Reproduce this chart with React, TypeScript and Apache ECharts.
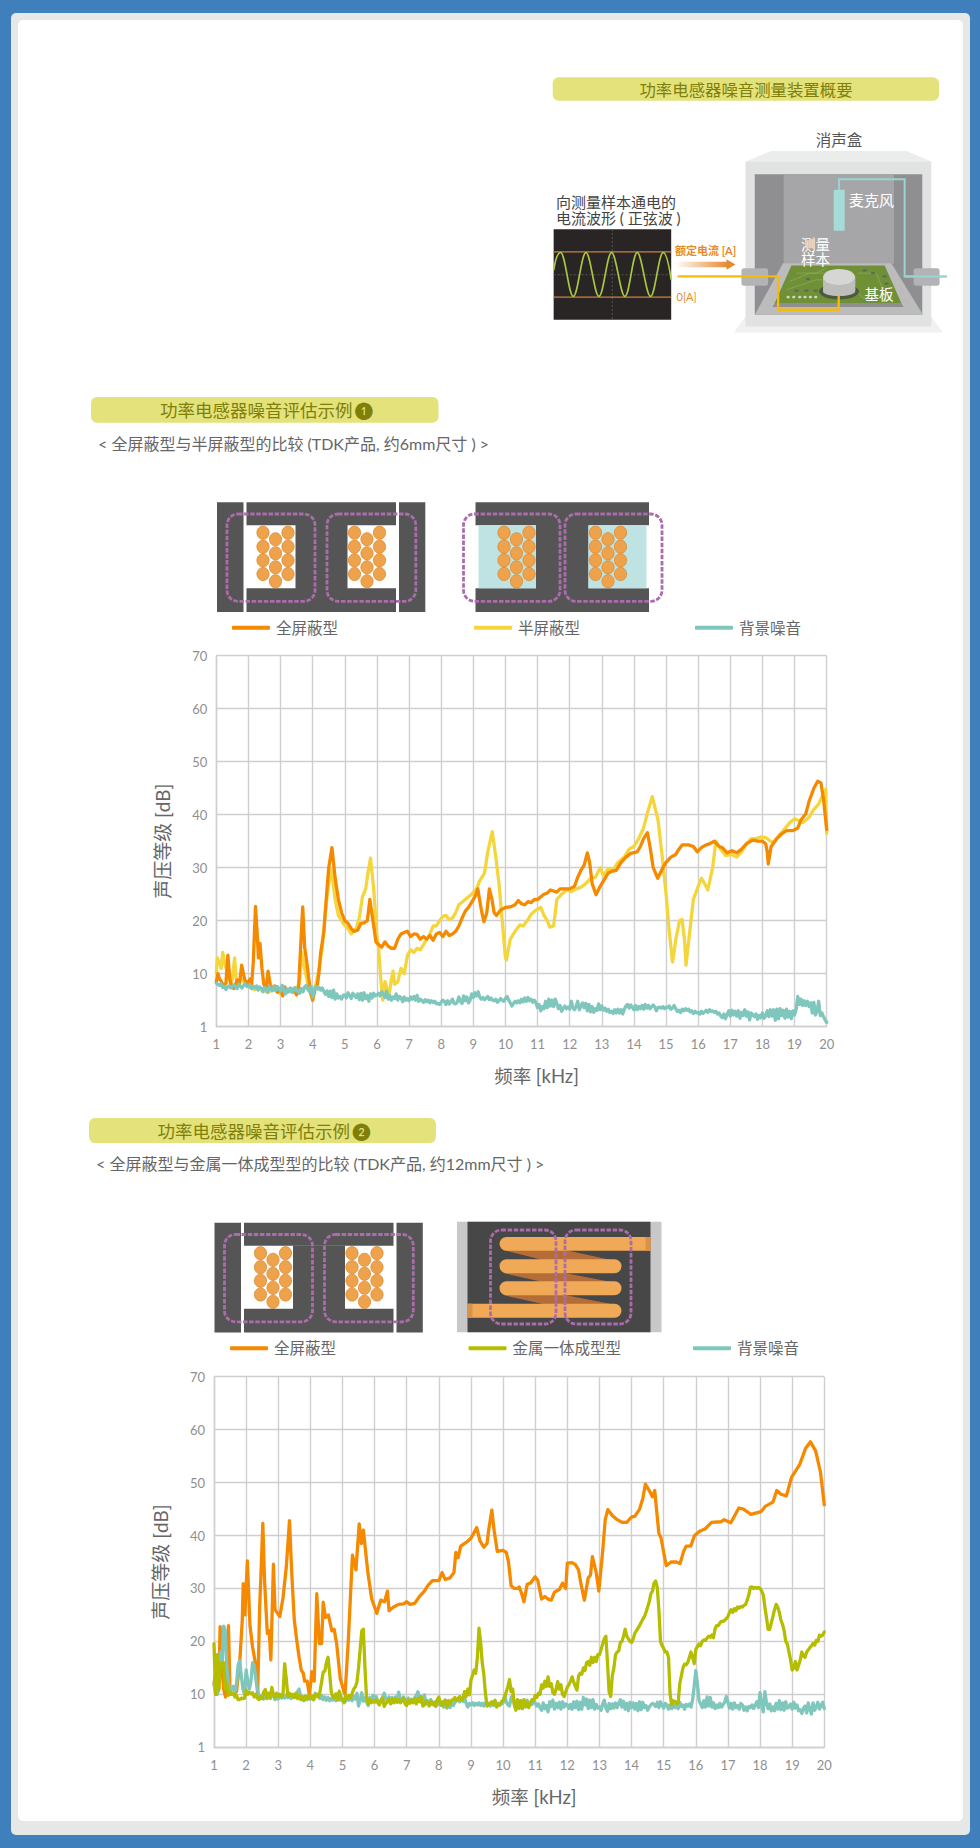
import React, { useEffect, useRef } from "react";
import * as echarts from "echarts";

const SANS = "Lato, 'Noto Sans CJK SC', sans-serif";
const CJK = "'Noto Sans CJK SC', sans-serif";

const xMin = 1;
const xMax = 20;
const yTickLabels = ["1", "10", "20", "30", "40", "50", "60", "70"];
const orangeColor = "#f58a00";
const yellowColor = "#f4d63c";
const teal = "#7fc7bc";
const olive = "#b5bd00";

const orange1: number[][] = [[1,8.5],[1.05,10],[1.1,9],[1.15,8.6],[1.2,8],[1.25,7.8],[1.3,8.2],[1.36,13.5],[1.42,9],[1.48,7.5],[1.55,7.2],[1.65,8.8],[1.72,8],[1.79,11.6],[1.88,9],[1.95,8],[2,8.5],[2.05,9],[2.1,8],[2.15,12],[2.22,22.7],[2.27,18],[2.31,13],[2.36,15.7],[2.42,11],[2.48,8],[2.55,7],[2.61,10.5],[2.68,8],[2.75,7],[2.82,7.7],[2.9,6.5],[3,7],[3.07,5.8],[3.13,7.5],[3.2,6.5],[3.3,7.2],[3.4,7],[3.5,6],[3.56,7],[3.6,12],[3.65,18],[3.69,22.6],[3.75,15],[3.82,12],[3.88,9],[3.95,6],[4,5],[4.07,7],[4.15,8],[4.2,10.5],[4.25,14],[4.35,18],[4.42,24],[4.5,30],[4.6,33.8],[4.7,28],[4.8,24],[4.9,21.5],[5,20],[5.1,19.5],[5.2,18.5],[5.28,18],[5.4,18.2],[5.5,19.5],[5.6,19.6],[5.7,20],[5.78,24],[5.9,19],[5.97,16],[6.05,15.5],[6.15,15],[6.25,16],[6.35,15.2],[6.45,14.8],[6.55,14.8],[6.65,16.5],[6.75,17.5],[6.85,17.8],[6.95,18],[7.05,17],[7.15,17.5],[7.25,17.4],[7.35,16.5],[7.45,17],[7.55,16.5],[7.65,17.2],[7.75,16.3],[7.85,17.5],[7.95,17.8],[8.05,17],[8.15,18],[8.25,17.2],[8.35,17.5],[8.45,18],[8.55,19],[8.65,20.5],[8.75,21.8],[8.85,22.5],[8.95,23.5],[9.05,24.5],[9.14,26],[9.25,22],[9.33,19.8],[9.42,21.5],[9.5,26],[9.58,24],[9.65,21.5],[9.72,21],[9.85,22],[10,22.5],[10.15,22.6],[10.3,23],[10.4,23.8],[10.5,23.2],[10.6,23],[10.7,23.6],[10.8,23.4],[10.9,24],[11,24],[11.1,24.5],[11.2,25],[11.3,25.2],[11.4,25.8],[11.5,25.6],[11.6,25.4],[11.7,26],[11.85,26],[12,26],[12.15,26.5],[12.25,28.2],[12.35,29.5],[12.45,30.5],[12.55,32.8],[12.62,31],[12.7,27],[12.82,24.9],[12.95,26.5],[13.1,28],[13.2,29],[13.3,29.3],[13.45,29.5],[13.6,31],[13.75,32],[13.9,32.7],[14.1,33],[14.2,34],[14.3,35.5],[14.42,36.6],[14.5,34],[14.6,30],[14.74,28],[14.9,30],[15,31],[15.15,32],[15.3,32.5],[15.4,33.5],[15.5,34.3],[15.7,34.3],[15.85,34],[15.97,33],[16.1,33.8],[16.25,34.3],[16.35,34.5],[16.5,35],[16.65,34],[16.75,33.8],[16.9,32.8],[17.05,33.2],[17.2,32.8],[17.35,33.5],[17.5,34.5],[17.7,35.2],[17.85,35],[18,35],[18.1,34.5],[18.15,33],[18.18,30.7],[18.27,34],[18.45,35.5],[18.6,36.4],[18.75,37],[18.95,37],[19.1,37.5],[19.2,39],[19.35,40.2],[19.45,42.5],[19.6,45],[19.72,46.3],[19.82,46],[19.9,43],[20,37.2]];

const yellow1: number[][] = [[1,10],[1.03,13],[1.1,12],[1.15,11],[1.2,14],[1.28,11.5],[1.36,10],[1.45,8],[1.5,9],[1.57,13],[1.62,9],[1.7,8.5],[1.8,9],[1.9,8],[2,7.7],[2.1,7.2],[2.2,7],[2.3,7.5],[2.4,7],[2.6,6.5],[2.8,7],[3,6.2],[3.2,7],[3.4,6.5],[3.5,6.8],[3.6,9],[3.66,14],[3.75,11],[3.85,8],[4,6.5],[4.1,8],[4.2,11],[4.3,15],[4.4,22],[4.5,27],[4.58,29.6],[4.7,24],[4.8,21],[4.95,19.5],[5.1,18.5],[5.2,17.5],[5.35,18.5],[5.45,20.5],[5.55,24.5],[5.65,26],[5.72,29],[5.8,31.8],[5.9,26],[6,17],[6.05,15],[6.12,9],[6.18,5],[6.25,8.5],[6.32,7],[6.38,6],[6.45,9],[6.5,10.5],[6.55,8],[6.65,8.5],[6.75,11],[6.85,10],[6.95,13.5],[7.05,14.5],[7.15,14],[7.25,14.8],[7.35,14.5],[7.45,15.5],[7.55,16.5],[7.65,17.5],[7.75,19],[7.85,19],[7.95,20],[8.05,20.8],[8.15,21],[8.25,20.2],[8.35,20.5],[8.45,21.5],[8.55,23],[8.65,23.5],[8.75,24],[8.85,24.5],[8.95,25],[9.1,26],[9.2,27.5],[9.35,29],[9.45,33],[9.59,36.8],[9.7,32],[9.8,27],[9.9,20],[10,13],[10.03,12.6],[10.15,16.5],[10.3,18],[10.45,19.2],[10.55,19],[10.7,20.2],[10.8,21.2],[10.95,22],[11.1,22.5],[11.2,21],[11.3,20],[11.38,18.8],[11.5,19],[11.6,24],[11.75,25],[11.9,25.8],[12.05,25.5],[12.2,26],[12.35,26.3],[12.5,27],[12.65,28],[12.8,28.2],[12.95,30],[13.05,28.5],[13.2,29.8],[13.35,29.5],[13.5,31],[13.7,32],[13.85,33.5],[14,34],[14.15,35.5],[14.3,37.5],[14.45,41],[14.57,43.4],[14.75,39],[14.9,31],[15,25],[15.1,18],[15.2,12.2],[15.32,17],[15.42,20],[15.5,20.2],[15.58,16],[15.62,11.6],[15.72,17],[15.85,24],[16,26.5],[16.1,28],[16.2,27],[16.3,25.8],[16.45,30],[16.55,35],[16.7,33.5],[16.85,32.3],[17.05,32.5],[17.2,32],[17.35,33],[17.5,34.5],[17.65,35.5],[17.8,35.5],[17.95,35.8],[18.1,35.7],[18.25,35],[18.35,34.8],[18.5,36],[18.65,37],[18.85,38.5],[19,39.2],[19.1,39],[19.25,38.5],[19.45,39.5],[19.6,41],[19.75,42],[19.9,44],[19.97,44.8],[20,36.5]];

const noise1Rows: number[][] = [
[8.2,8.0,7.8,8.1,7.4,7.6,7.0,7.5,7.7,7.3,7.6,7.9,7.4,7.2,8.0,7.6,7.3,7.8,8.1,7.6],
[7.5,7.9,7.2,7.6,7.3,7.7,6.9,7.5,7.2,6.6,7.4,7.1,6.5,7.6,7.0,6.8,7.5,6.9,7.6,7.2],
[6.7,7.8,7.0,6.2,7.1,6.6,7.3,6.5,7.0,7.4,6.7,6.9,6.3,7.2,6.6,7.5,7.8,7.0,6.6,7.6],
[5.6,6.8,7.6,7.1,7.4,6.9,7.3,6.6,6.1,6.8,5.7,6.7,5.5,6.9,5.2,6.2,5.4,5.7,5.2,5.9],
[6.0,5.4,6.4,5.9,5.3,6.3,6.0,5.5,6.2,5.1,6.3,5.0,6.4,5.3,5.9,4.8,6.2,5.4,6.3,5.8],
[6.0,6.3,5.8,6.6,6.1,5.5,6.7,5.2,5.9,5.0,5.6,5.3,6.2,5.0,5.7,5.5,4.7,5.6,5.0,5.3],
[4.9,5.6,5.2,5.7,5.0,5.9,4.8,5.2,4.9,4.6,5.1,4.7,5.0,4.5,4.9,4.6,4.8,4.3,4.4,4.2],
[4.6,5.0,4.8,4.2,4.9,4.3,4.7,5.2,4.4,4.3,4.6,5.6,4.8,4.4,5.8,4.9,5.6,4.5,5.0,6.2],
[5.5,6.4,5.8,6.6,5.6,5.2,5.5,5.1,5.4,5.7,5.1,5.4,5.0,4.9,5.2,4.6,4.9,5.3,5.0,4.8],
[5.3,5.7,5.0,4.5,3.9,4.4,4.8,4.5,4.9,4.5,5.2,4.7,5.4,4.8,5.5,4.9,5.2,4.6,5.0,4.5],
[3.6,4.2,3.0,3.8,3.4,4.8,3.6,5.2,3.9,5.0,3.8,5.2,4.4,3.4,4.0,2.9,3.5,3.9,3.4,3.7],
[3.3,4.8,3.6,3.2,3.8,4.8,3.2,3.9,4.5,3.6,4.4,3.0,4.2,2.8,3.8,2.7,3.4,3.1,4.3,3.2],
[3.9,3.1,3.5,2.9,3.3,2.7,2.9,2.5,3.2,2.6,3.3,2.6,3.2,2.4,3.3,3.9,4.2,3.5,4.1,3.7],
[3.2,4.0,3.2,3.8,3.4,4.0,3.3,4.2,3.5,4.0,3.4,3.8,4.1,3.7,3.0,3.6,3.7,3.5,3.8,3.4],
[3.7,3.6,3.9,3.3,3.5,4.0,3.4,2.9,3.1,2.7,3.3,3.0,3.4,3.1,3.3,2.8,3.0,2.5,2.9,2.6],
[2.7,2.4,2.9,2.5,2.8,3.1,2.7,3.2,2.9,3.0,2.7,2.9,2.4,2.6,2.0,1.7,2.4,1.5,2.3,3.0],
[2.0,3.1,2.2,2.9,2.0,3.0,1.6,2.7,2.1,3.2,2.0,2.8,1.3,2.6,2.2,1.9,2.4,1.4,2.1,1.7],
[2.6,1.6,2.0,3.0,1.9,3.2,2.0,3.2,1.2,3.3,1.5,3.4,2.1,3.1,1.6,3.3,1.8,2.9,1.5,3.0],
[2.2,3.3,5.7,4.2,5.2,4.0,4.9,4.0,4.8,3.8,4.5,2.6,4.6,2.2,3.0,4.8,2.1,2.6,1.9,1.3],
[0.8],
];

const orange2: number[][] = [[1,12],[1.05,14],[1.1,10],[1.15,11],[1.19,22.8],[1.25,15],[1.3,11],[1.36,9.5],[1.45,23],[1.5,10],[1.6,10],[1.7,10.5],[1.8,16],[1.88,24],[1.91,30.9],[1.96,25],[2.04,35.2],[2.12,23],[2.2,19],[2.3,15.5],[2.36,10],[2.42,26],[2.52,42.3],[2.57,32],[2.62,26],[2.66,21.5],[2.72,22],[2.77,16.5],[2.85,34.6],[2.9,26],[3.05,24.7],[3.15,28.3],[3.25,34],[3.35,42.8],[3.42,33],[3.5,24],[3.58,20],[3.65,17],[3.72,14.5],[3.78,14],[3.82,12.5],[3.9,12.5],[3.97,9.8],[4.05,14.3],[4.12,12.5],[4.2,29],[4.28,19.6],[4.35,19.6],[4.4,27.4],[4.47,24.5],[4.56,25],[4.67,22],[4.74,22.3],[4.82,19.5],[4.93,13],[5,11.5],[5.08,10],[5.18,20],[5.31,36.3],[5.42,33.5],[5.52,42.2],[5.59,38.5],[5.65,41],[5.79,33],[5.91,28],[6.07,25.3],[6.19,27.8],[6.31,27.5],[6.4,29.5],[6.45,25.8],[6.59,26.5],[6.75,27],[6.9,27.1],[7,27.5],[7.1,27],[7.25,27.2],[7.4,28.5],[7.55,29.5],[7.65,30.5],[7.8,31.5],[8,31.5],[8.1,33],[8.2,31.7],[8.35,32],[8.47,33],[8.53,36.8],[8.6,35.8],[8.68,38],[8.85,38.7],[9,39.5],[9.18,41.5],[9.28,39],[9.4,37.8],[9.5,38.5],[9.55,41],[9.65,44.8],[9.72,41],[9.82,37],[10,37.2],[10.1,36.8],[10.17,35],[10.25,30.5],[10.35,30],[10.45,30],[10.5,30.3],[10.58,29],[10.65,27.5],[10.75,30.8],[10.85,31],[11,32.2],[11.08,31.5],[11.2,28],[11.3,28.5],[11.4,28],[11.5,27.8],[11.6,29.3],[11.75,29.8],[11.85,31],[11.95,30],[12,34.8],[12.15,34.9],[12.25,34.5],[12.35,33.5],[12.42,31],[12.53,27.8],[12.65,32],[12.72,32.5],[12.78,36],[12.9,33],[12.98,29.5],[13.1,37],[13.18,43],[13.26,44.9],[13.4,43.8],[13.55,43],[13.7,42.5],[13.85,42.5],[14,43.5],[14.1,43.6],[14.25,45],[14.35,47],[14.43,49.7],[14.55,48.5],[14.65,47.3],[14.72,48.5],[14.85,40.4],[14.92,39.5],[15,36.8],[15.08,34.3],[15.23,35],[15.39,35],[15.51,34.7],[15.62,37],[15.7,38],[15.84,38],[15.96,40],[16.12,40.8],[16.3,41.3],[16.49,42.5],[16.78,42.6],[16.88,43],[17.09,42.4],[17.34,45.2],[17.48,45],[17.72,44],[18.03,44.5],[18.16,45.5],[18.4,46.3],[18.52,48.5],[18.65,47.8],[18.82,47.5],[18.98,51],[19.24,53.5],[19.42,56.5],[19.57,57.7],[19.73,56],[19.88,52],[20,45.8]];

const metalRows: number[][] = [
[19.6,10,17.5,11,16,15,16,11,12,9.8,10.5,10,10.2,9.5,9.8,9,9,9.3,9.2,9.3],
[10.8,10,10.4,10.1,10.3,9.5,10,9.3,9,9.6,9.2,10.5,10.9,9.2,10.2,9.4,11.3,10,9.4,10.2],
[9.6,10,9.5,10.2,15.8,13,9.6,10.2,9.7,10,9.4,10.2,9.2,9.8,9,9.6,8.9,9.7,9.1,9.8],
[9.2,9.7,9,9.8,10,9.5,10.5,12.4,14.2,14.4,16,17,14,10.5,9.5,9.3,10.1,9,10.6,9.4],
[9,8.4,9.8,9.2,9.8,9.3,10.2,11,11.4,12.3,15,18.5,22,22.3,15,9.3,8.2,9,8.4,8.8],
[8.6,9,8.4,8,8.9,9.3,7.7,8.3,8.6,9.1,8.2,9,8.4,9.2,8.5,9,8.4,8.9,9.3,8.2],
[7.9,8.9,8.3,9,8.4,9.2,8.2,9.2,8.6,9.6,7.8,8,8.8,8.4,7.9,8.7,8.1,8.5,7.7,9],
[9.5,8.2,7.9,8.6,8.9,7.6,8.8,8.2,8.9,9,9.4,8.8,9.2,9.6,9,9.1,10.5,9.6,11,9.9],
[12.7,13.6,14.6,14,17,22.5,20,16,13.8,10.2,7.8,8,8.3,8.6,8.2,8.9,7.6,8.1,8,8.6],
[8.9,9.5,10.5,11.5,12.8,10.5,11,8,7,9,7.5,8.8,7.3,9,7.8,8.5,7.5,8.4,9,8.8],
[9.8,9.4,10.2,10,11.8,11.2,12.5,11.5,13.3,11.5,12,10.3,10,11,12.4,11,11.8,10,9.6,10.5],
[11.4,11.8,12.5,13.3,12.3,11.5,10.8,13.5,14,13.8,15,14.5,16,16.2,15.5,17,16,17,16.2,17.5],
[17.5,18.5,19.5,20.5,21,16,10.5,9.6,13.5,15,17.5,18,18.2,19.8,20,21,22.3,21,20.5,20],
[19.8,20.5,21.5,22,22.5,23,23.6,24.2,24.7,25.5,26.5,27.5,29,29.5,31,31.4,30.2,26,20,19.2],
[18.7,18,18,17,10,8,8.8,8.7,8.2,8.4,12,13.5,15,15.7,15.6,16,17,18,17,15.8],
[18.5,19,19.5,19.2,20,20.3,20.2,20.6,21,20.8,21.2,20.7,22.4,23,23,23.5,23.8,23.8,24,24.3],
[24.7,25.5,26,25.5,26.2,25.8,26.5,26.3,26.6,26.5,26.8,27,27.8,28.8,30.2,30.3,30,30.2,30,30.2],
[30,29.5,28.8,26.5,24.5,22.3,22.3,23.5,24.7,26,27,26.5,25.5,24,23.2,22,20,19.5,18,16.5],
[14.6,15,16.2,14.6,15.5,16.5,18,17.2,17,18,18.4,18.8,19.2,19.6,19.3,20.2,20,21.2,21,21.2],
[21.8],
];

const noise2Rows: number[][] = [
[12,10,10,13,18,15,22.9,22,15,12,10,11,11.5,10.5,12,15.5,16.4,13.5,11,10],
[14.6,12.5,11,12.5,16,15.5,13,11,9.8,9.2,9.6,9.1,10,9.5,9.9,9.2,10.4,9.7,9,9.6],
[9.1,9.7,9.3,9.8,9.3,9.9,9.4,9.7,9.2,9.8,9.4,9.7,10.5,11,9.5,9.2,8.8,9.5,9,9.4],
[9.1,9.4,9.0,10.2,9.6,9.9,9.2,9.8,9.0,9.5,8.9,9.4,8.8,9.2,8.9,9.3,8.8,9.2,8.9,9.1],
[8.8,9.1,8.7,9.2,8.9,9.5,8.8,9.6,9.1,10.2,7.8,9.0,10.3,8.7,9.3,8.6,7.9,9.4,8.6,9.8],
[8.5,9.6,8.7,8.3,8.9,9.5,10.2,9.1,8.8,9.5,8.9,9.4,8.7,9.5,8.9,10.4,9.1,8.7,9.5,8.9],
[8.7,9.3,8.6,9.1,8.6,9.4,9.8,10.5,9.0,8.6,9.1,9.9,8.2,8.8,7.8,9.0,8.3,8.0,8.6,8.0],
[8.6,8.0,8.6,7.6,8.9,7.4,8.7,7.5,8.6,7.9,8.5,8.9,9.1,8.6,9.2,8.7,9.4,8.3,7.6,8.3],
[8.0,8.4,7.9,8.3,8.0,8.4,7.9,8.3,7.8,8.4,8.0,8.3,7.8,8.2,7.9,8.4,7.8,8.3,8.0,8.2],
[8.4,9.8,8.6,8.0,7.8,9.4,9.8,8.2,7.6,8.5,7.3,8.8,7.5,8.6,7.6,8.9,7.8,8.4,8.1,8.7],
[8.4,7.8,8.2,7.5,7.0,8.4,7.3,7.9,6.7,8.6,7.7,8.9,7.2,8.3,7.5,8.5,7.2,8.6,7.6,8.2],
[8.0,7.3,8.1,7.2,8.6,7.5,8.7,7.1,8.5,7.2,9.4,8.0,9.1,7.3,8.9,7.5,9.0,7.2,8.1,7.4],
[7.6,7.0,8.2,8.9,7.4,6.8,8.3,7.3,8.2,7.4,8.4,7.5,8.3,9.0,7.6,8.7,7.2,8.3,6.9,8.5],
[7.5,8.4,7.2,8.3,6.9,8.6,7.1,8.5,7.5,7.9,7.0,7.6,8.0,8.3,8.1,7.7,8.5,7.5,8.6,7.9],
[7.4,8.3,8.0,7.2,8.0,7.3,8.1,7.5,7.8,7.3,8.5,7.7,8.0,7.2,8.1,7.8,8.2,7.6,9.0,11.5],
[14.5,12,8.8,8.2,7.5,8.8,7.6,9.5,7.8,9.4,7.6,8.4,7.3,8.0,7.5,8.3,7.6,8.1,8.5,9.6],
[8.5,7.4,8.3,7.2,8.4,7.5,7.9,7.2,8.3,8.0,7.0,7.6,6.9,7.7,7.5,8.0,7.3,8.0,8.6,7.5],
[10.3,8.0,6.7,10.5,8.4,7.3,8.2,6.9,7.6,6.9,8.3,7.2,8.8,7.1,8.4,7.0,8.6,7.4,7.6,8.2],
[7.2,8.5,7.4,8.0,6.9,7.1,6.4,7.4,7.8,6.5,8.4,7.2,6.3,8.4,7.0,7.6,8.5,7.2,7.9,8.5],
[7.3],
];

const rowsToPoints = (rows: number[][]) =>
  rows.flatMap((row, r) => row.map((v, j) => [xMin + r + j / 20, v]));

echarts.graphic.registerShape(
  "sineTrace",
  echarts.graphic.extendPath(
    "M71 632 C76 600 84 578 92 578 C106 578 116 710 130 710 C144 710 154 578 168 578 C182 578 193 710 207 710 C221 710 231 578 245 578 C259 578 271 710 285 710 C299 710 308 578 322 578 C336 578 348 710 362 710 C376 710 386 578 400 578 C410 578 418 620 424 660",
    {}
  )
);

const font = (size: number, weight = "normal", fam = CJK) => `${weight} ${size}px ${fam}`;
const label = (text: string, x: number, y: number, size: number, fill: string, align = "left", weight = "normal", fam = SANS) => ({
  type: "text", x, y, silent: true,
  style: { text, fill, font: font(size, weight, fam), textAlign: align, textVerticalAlign: "middle" },
});
const box = (x0: number, y0: number, x1: number, y1: number, fill: string, r: any = 0) => ({
  type: "rect", silent: true, shape: { x: x0, y: y0, width: x1 - x0, height: y1 - y0, r }, style: { fill },
});
const poly = (points: number[][], fill: string) => ({ type: "polygon", silent: true, shape: { points }, style: { fill } });
const wire = (points: number[][], stroke: string, lineWidth: number, lineDash?: number[]) => ({
  type: "polyline", silent: true, shape: { points }, style: { stroke, lineWidth, fill: "none", lineDash },
});
const oval = (cx: number, cy: number, rx: number, ry: number, fill: string, stroke?: string, lineWidth = 1) => ({
  type: "ellipse", silent: true, shape: { cx, cy, rx, ry }, style: { fill, stroke, lineWidth },
});
const dashed = (x0: number, y0: number, x1: number, y1: number) => ({
  type: "rect", silent: true, shape: { x: x0, y: y0, width: x1 - x0, height: y1 - y0, r: 11 },
  style: { fill: "none", stroke: "#ab6cab", lineWidth: 2.8, lineDash: [4.5, 1.6] },
});

const PILL = "#e3e27b";
const PILLTEXT = "#7f7f0a";
const GREY_TEXT = "#666666";
const CORE = "#555555";

const coil = (xc: number, dy: number) => {
  const out: any[] = [];
  [xc - 12.5, xc + 12.5].forEach((x) =>
    [532.7, 546.7, 560.3, 574].forEach((y) => out.push(oval(x, y + dy, 6.1, 6.6, "#eea24c", "#d88a34", 0.8)))
  );
  [539.3, 553.3, 567.3, 581.3].forEach((y) => out.push(oval(xc, y + dy, 6.1, 6.6, "#eea24c", "#d88a34", 0.8)));
  return out;
};

const setupDiagram = () => ({
  type: "group", x: 530, y: 60, scaleX: 1 / 3, scaleY: 1 / 3, silent: true,
  children: [
    poly([[647, 770], [1205, 770], [1240, 818], [612, 818]], "#f0f1f0"),
    poly([[647, 305], [725, 273], [1130, 273], [1205, 305]], "#ebecec"),
    box(647, 305, 1205, 800, "#e1e2e2"),
    box(675, 343, 1178, 765, "#8f8f91"),
    box(762, 343, 1093, 612, "#a6a6a8"),
    poly([[760, 610], [1085, 610], [1180, 765], [675, 765]], "#bcbcbc"),
    poly([[735, 730], [1115, 730], [1122, 742], [728, 742]], "#8f8f8f"),
    poly([[785, 617], [1065, 617], [1115, 730], [735, 730]], "#6f9036"),
    wire([[800, 640], [860, 640], [890, 625]], "#94ad5c", 2),
    wire([[780, 665], [840, 640], [885, 640]], "#94ad5c", 2),
    wire([[770, 690], [860, 660], [880, 660]], "#94ad5c", 2),
    wire([[985, 640], [1040, 640], [1060, 690]], "#94ad5c", 2),
    wire([[985, 700], [1000, 715], [1090, 715]], "#94ad5c", 2),
    ...[[775, 712], [792, 712], [810, 712], [826, 712], [842, 712], [858, 712]].map(([x, y]) => oval(x, y, 5, 4, "#cfd8c0")),
    ...[[835, 658], [800, 693], [830, 693], [858, 693], [1005, 632], [1030, 640], [1065, 650], [1070, 672]].map(([x, y]) => oval(x, y, 7, 3.5, "#5e6a60")),
    oval(928, 695, 60, 24, "#4d5a40"),
    box(880, 652, 977, 695, "#bdbdbb"),
    oval(928, 695, 48, 14, "#bdbdbb"),
    oval(928, 652, 48, 24, "#d6d6d4"),
    box(912, 390, 945, 513, "#a6dbd8", 3),
    wire([[928, 390], [928, 358], [1125, 358], [1125, 650], [1252, 650]], "#9bd3d3", 6),
    box(635, 625, 715, 678, "#b3b3b5", 8),
    box(1152, 625, 1230, 678, "#b3b3b5", 8),
    wire([[1125, 650], [1252, 650]], "#9bd3d3", 6),
    wire([[443, 650], [745, 650], [745, 750], [927, 750], [927, 708]], "#f6ba0a", 7),
    box(71, 508, 424, 780, "#2a2525"),
    wire([[71, 645], [424, 645]], "#5a5652", 3, [6, 6]),
    wire([[247, 508], [247, 780]], "#5a5652", 3, [6, 6]),
    wire([[71, 576], [424, 576]], "#c98142", 4),
    wire([[71, 712], [424, 712]], "#c98142", 4),
    { type: "sineTrace", silent: true, style: { fill: "none", stroke: "#a9c93f", lineWidth: 5 } },
    { type: "rect", silent: true, shape: { x: 435, y: 606, width: 158, height: 16 },
      style: { fill: new echarts.graphic.LinearGradient(0, 0, 1, 0, [{ offset: 0, color: "#ffffff" }, { offset: 1, color: "#e68a32" }]) } },
    poly([[590, 598], [617, 614], [590, 630]], "#e68a32"),
  ],
});

const semiOpenLeft = (dy: number, dx: number) => [
  box(217 + dx, 502.3 + dy, 243.5 + dx, 612 + dy, CORE),
  box(399 + dx, 502.3 + dy, 425.3 + dx, 612 + dy, CORE),
  box(246.5 + dx, 502.3 + dy, 396 + dx, 525.3 + dy, CORE),
  box(246.5 + dx, 588.3 + dy, 396 + dx, 612 + dy, CORE),
  box(295.5 + dx, 525 + dy, 347.5 + dx, 589 + dy, CORE),
  ...coil(275.5 + dx, dy),
  ...coil(367 + dx, dy),
  dashed(227 + dx, 514 + dy, 315 + dx, 601.3 + dy),
  dashed(327 + dx, 514 + dy, 415.8 + dx, 601.3 + dy),
];

const halfShield = () => [
  box(475.5, 502.3, 649, 525.3, CORE),
  box(475.5, 588.3, 649, 612, CORE),
  box(536, 525, 588.5, 589, CORE),
  box(478.5, 525.3, 536, 588.3, "#bfe3e3"),
  box(588.5, 525.3, 646.5, 588.3, "#bfe3e3"),
  ...coil(516.5, 0),
  ...coil(608, 0),
  dashed(463.5, 514, 560, 601.3),
  dashed(565, 514, 662, 601.3),
];

const metalBody = () => [
  box(457, 1221.7, 661.5, 1332.3, "#c8c8c8"),
  box(467.5, 1221.7, 650.5, 1332.3, "#474747"),
  poly([[503, 1250], [565, 1250], [611, 1260], [543, 1260]], "#b56d38"),
  poly([[503, 1273], [565, 1273], [611, 1282], [543, 1282]], "#b56d38"),
  poly([[503, 1295], [565, 1295], [611, 1304], [543, 1304]], "#b56d38"),
  box(499.5, 1237, 650.5, 1250.7, "#f0a956", [7, 0, 0, 7]),
  box(499.5, 1259.3, 621.5, 1273.3, "#f0a956", 7),
  box(499.5, 1281.3, 621.5, 1295.3, "#f0a956", 7),
  box(467.5, 1303.7, 621.5, 1317.7, "#f0a956", [0, 7, 7, 0]),
  box(645.5, 1237, 650.5, 1250.7, "#d8934a"),
  box(467.5, 1303.7, 472.5, 1317.7, "#d8934a"),
  dashed(490.5, 1230, 556, 1324),
  dashed(565, 1230, 631, 1324),
];

const pageGraphics = () => [
  box(11, 13, 970, 1835, "#e6e8e8", 5),
  box(18, 20, 963, 1821, "#ffffff", 5),

  box(552.7, 77.3, 939, 100.7, PILL, 6),
  label("功率电感器噪音测量装置概要", 746, 89, 16.4, PILLTEXT, "center"),
  label("消声盒", 839, 139.5, 15.5, "#555555", "center"),
  label("向测量样本通电的", 556, 201.7, 15, "#444444"),
  label("电流波形 ( 正弦波 )", 556, 217.5, 15, "#444444"),
  setupDiagram(),
  label("额定电流 [A]", 675, 250, 11, "#e88a2a", "left", "bold"),
  label("0[A]", 676.5, 296.7, 11, "#e88a2a"),
  label("麦克风", 849, 200, 15, "#ffffff"),
  label("测量", 801, 244, 14.5, "#ffffff"),
  label("样本", 801, 259.5, 14.5, "#ffffff"),
  label("基板", 864.5, 294.7, 14.5, "#ffffff"),

  box(91, 397, 438.5, 422.7, PILL, 6),
  label("功率电感器噪音评估示例", 160, 410.5, 17.5, PILLTEXT),
  label("❶", 364, 410.5, 17, PILLTEXT, "center"),
  label("< 全屏蔽型与半屏蔽型的比较 (TDK产品, 约6mm尺寸 ) >", 98, 443.5, 16, GREY_TEXT),
  ...semiOpenLeft(0, 0),
  ...halfShield(),

  box(89, 1118, 436, 1143, PILL, 6),
  label("功率电感器噪音评估示例", 157.5, 1131, 17.5, PILLTEXT),
  label("❷", 361.5, 1131, 17, PILLTEXT, "center"),
  label("< 全屏蔽型与金属一体成型型的比较 (TDK产品, 约12mm尺寸 ) >", 96, 1163.5, 16, GREY_TEXT),
  ...semiOpenLeft(720.5, -2.5),
  ...metalBody(),
];

const xAxisFor = (gridIndex: number) => ({
  type: "value", gridIndex, min: xMin, max: xMax, interval: 1,
  name: "频率 [kHz]", nameLocation: "middle", nameGap: 40,
  nameTextStyle: { fontSize: 18.5, color: GREY_TEXT, fontFamily: SANS, padding: [0, 0, 0, 30] },
  axisTick: { show: false },
  axisLine: { show: true, onZero: false, lineStyle: { color: "#cfcfcf", width: 1.4 } },
  axisLabel: { margin: 11, fontSize: 13, color: "#8f8f8f", fontFamily: SANS, showMinLabel: true, showMaxLabel: true, hideOverlap: false },
  splitLine: { show: true, lineStyle: { color: "#cfcfcf", width: 1.4 } },
});
const yAxisFor = (gridIndex: number) => ({
  type: "value", gridIndex, min: 0, max: 70, interval: 10,
  name: "声压等级 [dB]", nameLocation: "middle", nameGap: 44, nameRotate: 90,
  nameTextStyle: { fontSize: 19, color: GREY_TEXT, fontFamily: SANS },
  axisTick: { show: false },
  axisLine: { show: true, lineStyle: { color: "#cfcfcf", width: 1.4 } },
  axisLabel: { margin: 9, fontSize: 13, color: "#8f8f8f", fontFamily: SANS, formatter: (v: number) => yTickLabels[v / 10] },
  splitLine: { show: true, lineStyle: { color: "#cfcfcf", width: 1.4 } },
});
const lineSeries = (name: string, data: number[][], color: string, idx: number, z: number) => ({
  type: "line", name, data, color, xAxisIndex: idx, yAxisIndex: idx, z,
  showSymbol: false, symbol: "none", smooth: false, silent: true,
  lineStyle: { color, width: 3.3, join: "round", cap: "round" },
  itemStyle: { color },
});
const legendItem = (name: string, left: number, top: number) => ({
  data: [name], left, top, icon: "roundRect", itemWidth: 38, itemHeight: 4, selectedMode: false,
  padding: 0, textStyle: { fontSize: 15.5, color: GREY_TEXT, fontFamily: SANS, padding: [0, 0, 0, 1] },
});

export default function App() {
  const ref = useRef<HTMLDivElement>(null);
  useEffect(() => {
    document.body.style.margin = "0";
    document.body.style.background = "#3f7fbb";
    const chart = echarts.init(ref.current!, undefined, { renderer: "svg" });
    chart.setOption({
      animation: false,
      backgroundColor: "#3f7fbb",
      grid: [
        { left: 216.3, top: 655.7, width: 610.4, height: 371 },
        { left: 214, top: 1376.7, width: 610.3, height: 370.6 },
      ],
      xAxis: [xAxisFor(0), xAxisFor(1)],
      yAxis: [yAxisFor(0), yAxisFor(1)],
      legend: [
        legendItem("全屏蔽型", 232, 620),
        legendItem("半屏蔽型", 474, 620),
        legendItem("背景噪音", 695, 620),
        legendItem("全屏蔽型", 230, 1340.5),
        legendItem("金属一体成型型", 468.5, 1340.5),
        legendItem("背景噪音", 693, 1340.5),
      ],
      series: [
        lineSeries("半屏蔽型", yellow1, yellowColor, 0, 2),
        lineSeries("全屏蔽型", orange1, orangeColor, 0, 3),
        lineSeries("背景噪音", rowsToPoints(noise1Rows), teal, 0, 4),
        lineSeries("全屏蔽型", orange2, orangeColor, 1, 2),
        lineSeries("背景噪音", rowsToPoints(noise2Rows), teal, 1, 3),
        lineSeries("金属一体成型型", rowsToPoints(metalRows), olive, 1, 4),
      ],
      graphic: { elements: pageGraphics() },
    });
    return () => chart.dispose();
  }, []);
  return <div ref={ref} style={{ width: 980, height: 1848 }} />;
}
